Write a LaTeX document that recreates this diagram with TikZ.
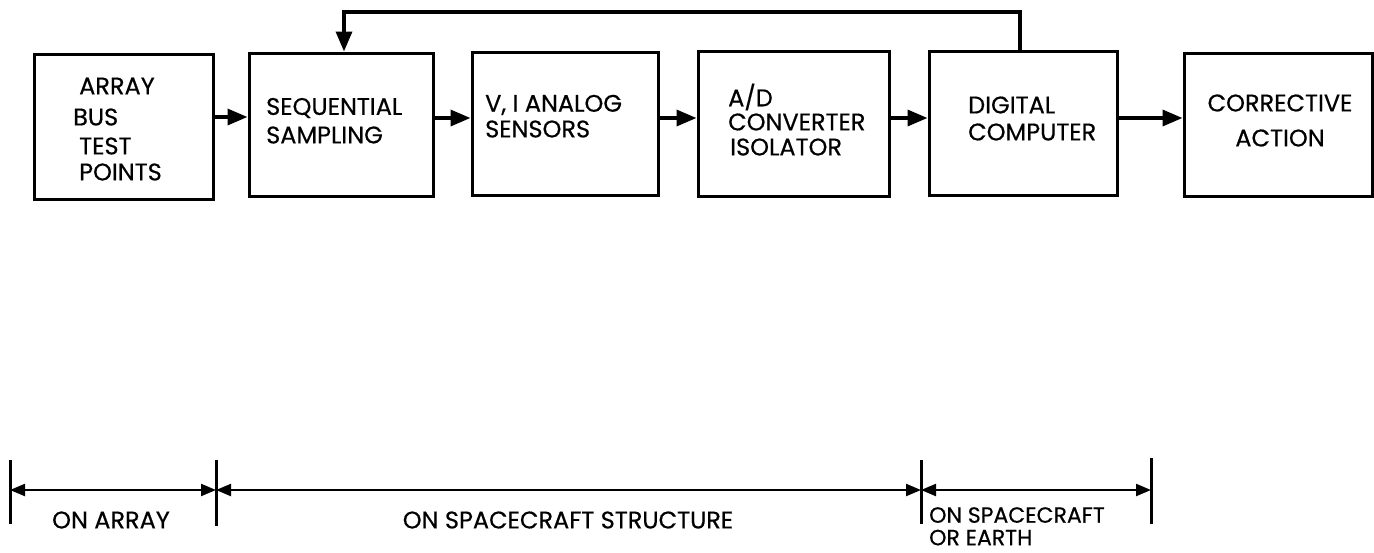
\documentclass[tikz,border=0pt]{standalone}
\usepackage{fontspec}
\setmainfont{Poppins}[FakeBold=0.5]
\usetikzlibrary{arrows.meta,positioning}
\begin{document}
\begin{tikzpicture}[x=1pt,y=-1pt,
  blk/.style={draw,line width=3pt,inner sep=0pt},
  lbl/.style={font=\fontsize{24}{26}\selectfont,inner sep=0pt,anchor=west},
  flow/.style={line width=3.4pt,-{Triangle[length=20pt,width=16pt]}},
  dim/.style={line width=2.2pt,{Triangle[length=15pt,width=12pt]}-{Triangle[length=15pt,width=12pt]}},
  bar/.style={line width=3pt}]
\useasboundingbox (0,0) rectangle (1374,552);
% boxes
\node[blk,minimum width=179pt,minimum height=145pt] (b1) at (123.5,126.5) {};
\node[blk,minimum width=184pt,minimum height=143pt] (b2) at (341,124.5) {};
\node[blk,minimum width=186pt,minimum height=143pt] (b3) at (565,123.5) {};
\node[blk,minimum width=191pt,minimum height=145pt] (b4) at (793.5,123.5) {};
\node[blk,minimum width=188pt,minimum height=144pt] (b5) at (1023,123) {};
\node[blk,minimum width=188pt,minimum height=143pt] (b6) at (1278,124.5) {};
% texts
\node[lbl] (t1a) at (79,86) {ARRAY};
\node[lbl] (t1b) at (73,117) {BUS};
\node[lbl] (t1c) at (79,146) {TEST};
\node[lbl] (t1d) at (79,172) {POINTS};
\node[lbl] (t2a) at (266,108) {SEQUENTIAL};
\node[lbl] (t2b) at (266,135) {SAMPLING};
\node[lbl] (t3a) at (485,105) {V, I ANALOG};
\node[lbl] (t3b) at (485,129) {SENSORS};
\node[lbl] (t4a) at (728,97) {A/D};
\node[lbl] (t4b) at (728,122) {CONVERTER};
\node[lbl] (t4c) at (730,147) {ISOLATOR};
\node[lbl] (t5a) at (968,105) {DIGITAL};
\node[lbl] (t5b) at (968,132) {COMPUTER};
\node[lbl,anchor=center] (t6a) at (1280,103) {CORRECTIVE};
\node[lbl,anchor=center] (t6b) at (1280,138) {ACTION};
% flow arrows
\draw[flow] (b1.east |- 0,117) -- (b2.west |- 0,117);
\draw[flow] (b2.east |- 0,118) -- (b3.west |- 0,118);
\draw[flow] (b3.east |- 0,118) -- (b4.west |- 0,118);
\draw[flow] (b4.east |- 0,118) -- (b5.west |- 0,118);
\draw[flow] (b5.east |- 0,118) -- (b6.west |- 0,118);
% feedback
\coordinate (fbR) at (1020,12);
\coordinate (fbL) at (344,12);
\draw[flow] (b5.north -| fbR) -- (fbR) -- (fbL) -- (b2.north -| fbL);
% bottom zones
\coordinate (z0t) at (10,460); \coordinate (z0b) at (10,524);
\coordinate (z1t) at (216,460); \coordinate (z1b) at (216,526);
\coordinate (z2t) at (921,460); \coordinate (z2b) at (921,524);
\coordinate (z3t) at (1151,458); \coordinate (z3b) at (1151,524);
\draw[bar] (z0t) -- (z0b);
\draw[bar] (z1t) -- (z1b);
\draw[bar] (z2t) -- (z2b);
\draw[bar] (z3t) -- (z3b);
\coordinate (d0) at (10,490); \coordinate (d1) at (216,490);
\coordinate (d2) at (921,490); \coordinate (d3) at (1151,490);
\draw[dim] (d0) -- (d1);
\draw[dim] (d1) -- (d2);
\draw[dim] (d2) -- (d3);
\node[lbl,anchor=center] (z1) at (111,520) {ON ARRAY};
\node[lbl,anchor=center] (z2) at (568,520) {ON SPACECRAFT STRUCTURE};
\node[lbl,anchor=north west,align=left,font=\fontsize{22}{22.5}\selectfont] (z3) at (929,507) {ON SPACECRAFT\\OR EARTH};
\end{tikzpicture}
\end{document}
